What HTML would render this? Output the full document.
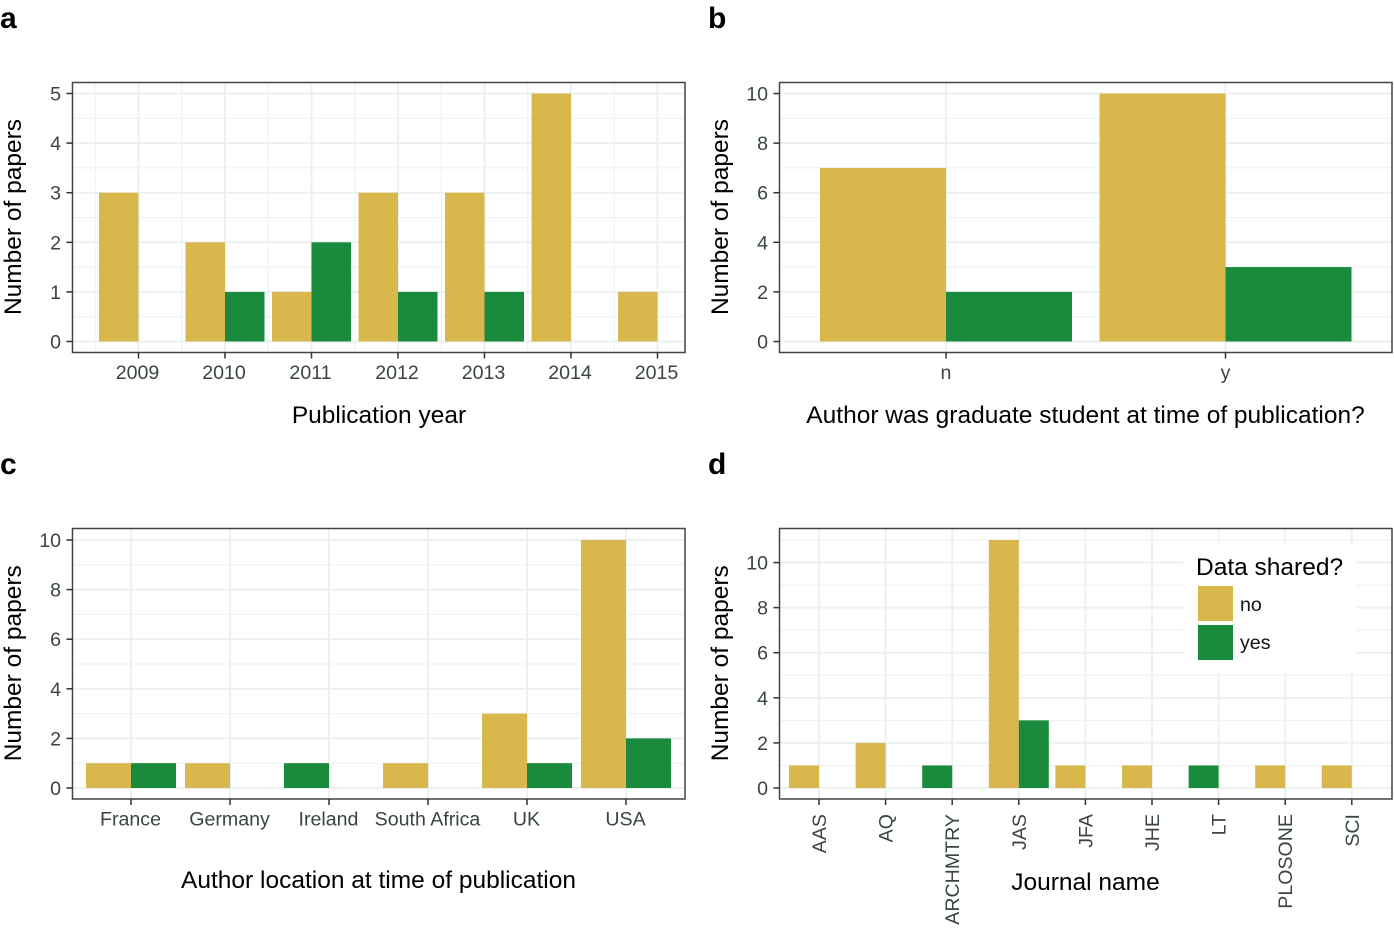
<!DOCTYPE html>
<html lang="en">
<head>
<meta charset="utf-8">
<title>Data sharing charts</title>
<style>
html,body{margin:0;padding:0;background:#fff;width:1394px;height:930px;overflow:hidden}
svg{display:block;font-family:"Liberation Sans",Arial,sans-serif}
</style>
</head>
<body>
<svg id="chart" width="1394" height="930" viewBox="0 0 1394 930" xmlns="http://www.w3.org/2000/svg"></svg>
<script>
const yearCategories = ['2009','2010','2011','2012','2013','2014','2015'];
const yearNo = [3,2,1,3,3,5,1];
const yearYes = [0,1,2,1,1,0,0];
const yearTicks = [0,1,2,3,4,5];

const gradCategories = ['n','y'];
const gradNo = [7,10];
const gradYes = [2,3];
const gradTicks = [0,2,4,6,8,10];

const locationCategories = ['France','Germany','Ireland','South Africa','UK','USA'];
const locationNo = [1,1,0,1,3,10];
const locationYes = [1,0,1,0,1,2];
const locationTicks = [0,2,4,6,8,10];

const journalCategories = ['AAS','AQ','ARCHMTRY','JAS','JFA','JHE','LT','PLOSONE','SCI'];
const journalNo = [1,2,0,11,1,1,0,1,1];
const journalYes = [0,0,1,3,0,0,1,0,0];
const journalTicks = [0,2,4,6,8,10];

const svg = document.getElementById('chart');
const NS = 'http://www.w3.org/2000/svg';
const GOLD = '#d8b84d', GREEN = '#1a8a3c', GRID = '#ebf0f0', INK = '#3a4447';
const TICK_FONT = 19.6, TITLE_FONT = 24.5;

function mk(tag, attrs, text) {
  const el = document.createElementNS(NS, tag);
  for (const k in attrs) el.setAttribute(k, attrs[k]);
  if (text !== undefined) el.textContent = text;
  svg.appendChild(el);
  return el;
}

function panel(cfg) {
  const {id, letter, lx, ly, left, right, top, bottom, y0, yTop, yMaxValue, cx0, dx, barW, cats, no, yes, ticks, xTitle, xTitleY, xTitleX, labelY, rotate, labelShift, minorXStep} = cfg;
  const yScale = v => y0 - (y0 - yTop) * v / yMaxValue;
  const xScale = i => cx0 + dx * i;

  let el = mk('text', {x: lx, y: ly, 'font-size': 30, 'font-weight': 'bold', fill: '#000'}, letter);
  
  

  el = mk('rect', {x: left, y: top, width: right - left, height: bottom - top, fill: '#fff'});
  
  

  // minor + major horizontal grid
  const step = ticks[1] - ticks[0];
  ticks.forEach(t => {
    const maj = mk('line', {x1: left, x2: right, y1: yScale(t), y2: yScale(t), stroke: GRID, 'stroke-width': 2});
    
    
    const my = t + step / 2;
    if (yScale(my) > top) {
      const mn = mk('line', {x1: left, x2: right, y1: yScale(my), y2: yScale(my), stroke: GRID, 'stroke-width': 1});
      
      
    }
  });
  // vertical grid
  cats.forEach((c, i) => {
    const g = mk('line', {x1: xScale(i), x2: xScale(i), y1: top, y2: bottom, stroke: GRID, 'stroke-width': 2});
    
    
    if (minorXStep && i < cats.length - 1) {
      const m = mk('line', {x1: xScale(i) + dx / 2, x2: xScale(i) + dx / 2, y1: top, y2: bottom, stroke: GRID, 'stroke-width': 1});
      
      
    }
  });
  if (minorXStep) {
    const m1 = mk('line', {x1: xScale(0) - dx / 2, x2: xScale(0) - dx / 2, y1: top, y2: bottom, stroke: GRID, 'stroke-width': 1});
    
    
  }

  // bars: a lone series in a category takes the left dodge slot
  cats.forEach((c, i) => {
    const cx = xScale(i);
    if (no[i] > 0) {
      const b = mk('rect', {x: cx - barW, y: yScale(no[i]), width: barW, height: y0 - yScale(no[i]), fill: GOLD});
      
      
    }
    if (yes[i] > 0) {
      const bx = no[i] > 0 ? cx : cx - barW;
      const b = mk('rect', {x: bx, y: yScale(yes[i]), width: barW, height: y0 - yScale(yes[i]), fill: GREEN});
      
      
    }
  });

  // border
  el = mk('rect', {x: left, y: top, width: right - left, height: bottom - top, fill: 'none', stroke: '#3d4648', 'stroke-width': 1.5});
  
  

  // y ticks
  ticks.forEach(t => {
    const tk = mk('line', {x1: left - 6, x2: left, y1: yScale(t), y2: yScale(t), stroke: '#2c3335', 'stroke-width': 1.5});
    
    
    const lb = mk('text', {x: left - 11.5, y: yScale(t) + 7, 'font-size': TICK_FONT, fill: INK, 'text-anchor': 'end'}, t);
    
    
  });

  // x ticks
  cats.forEach((c, i) => {
    const cx = xScale(i);
    const tk = mk('line', {x1: cx, x2: cx, y1: bottom, y2: bottom + 6, stroke: '#2c3335', 'stroke-width': 1.5});
    
    
    let lb;
    if (rotate) {
      lb = mk('text', {transform: 'translate(' + (cx + 7) + ',' + (bottom + 15) + ') rotate(-90)', 'font-size': TICK_FONT, fill: INK, 'text-anchor': 'end'}, c);
    } else {
      lb = mk('text', {x: cx + labelShift, y: labelY, 'font-size': TICK_FONT, fill: INK, 'text-anchor': 'middle'}, c);
    }
    
    
  });

  // axis titles
  el = mk('text', {x: xTitleX, y: xTitleY, 'font-size': TITLE_FONT, fill: '#000', 'text-anchor': 'middle'}, xTitle);
  
  
  el = mk('text', {transform: 'translate(' + (left - 51.5) + ',' + ((top + bottom) / 2 - 0.5) + ') rotate(-90)', 'font-size': TITLE_FONT, fill: '#000', 'text-anchor': 'middle'}, 'Number of papers');
  
  
}

panel({id:'year', letter:'a', lx:0, ly:28, left:72.5, right:685, top:82.5, bottom:352.5, y0:341.5, yTop:93.5, yMaxValue:5,
  cx0:138.5, dx:86.5, barW:39.5, cats:yearCategories, no:yearNo, yes:yearYes, ticks:yearTicks,
  xTitle:'Publication year', xTitleX:379, xTitleY:423, labelY:379, labelShift:-1, minorXStep:true});

panel({id:'grad', letter:'b', lx:708, ly:28, left:779.5, right:1392, top:82.5, bottom:352.5, y0:341.5, yTop:93.5, yMaxValue:10,
  cx0:946, dx:279.5, barW:126, cats:gradCategories, no:gradNo, yes:gradYes, ticks:gradTicks,
  xTitle:'Author was graduate student at time of publication?', xTitleX:1085.5, xTitleY:423, labelY:379, labelShift:0});

panel({id:'location', letter:'c', lx:0, ly:474, left:72.5, right:685, top:528.5, bottom:799, y0:788, yTop:540, yMaxValue:10,
  cx0:131, dx:99, barW:45, cats:locationCategories, no:locationNo, yes:locationYes, ticks:locationTicks,
  xTitle:'Author location at time of publication', xTitleX:378.5, xTitleY:888, labelY:825.5, labelShift:-0.5});

panel({id:'journal', letter:'d', lx:708, ly:474, left:779.5, right:1392, top:528.5, bottom:799, y0:788, yTop:540, yMaxValue:11,
  cx0:819, dx:66.6, barW:30, cats:journalCategories, no:journalNo, yes:journalYes, ticks:journalTicks,
  xTitle:'Journal name', xTitleX:1085.5, xTitleY:890, rotate:true, labelShift:0});

// legend
let lg = mk('rect', {x: 1183, y: 545, width: 173, height: 128, fill: '#fff'});


lg = mk('text', {x: 1196, y: 575, 'font-size': TITLE_FONT, fill: '#000'}, 'Data shared?');


lg = mk('rect', {x: 1198, y: 586, width: 35, height: 35, fill: GOLD});


lg = mk('text', {x: 1240, y: 611, 'font-size': TICK_FONT, fill: '#111'}, 'no');


lg = mk('rect', {x: 1198, y: 625, width: 35, height: 35, fill: GREEN});


lg = mk('text', {x: 1240, y: 649, 'font-size': TICK_FONT, fill: '#111'}, 'yes');


</script>
</body>
</html>
